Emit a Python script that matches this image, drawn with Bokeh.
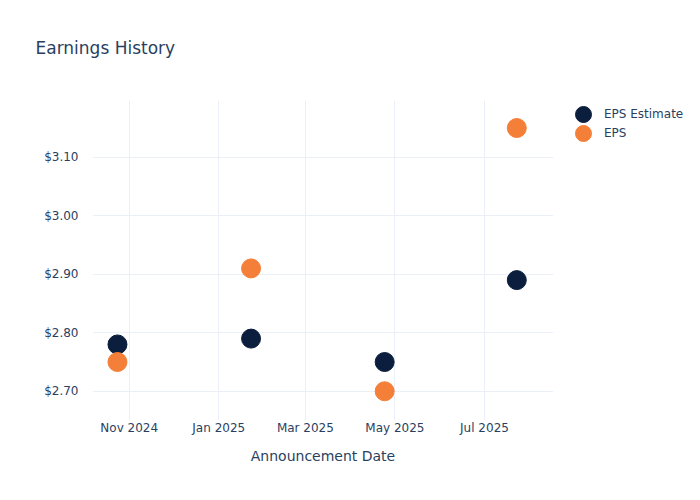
import datetime as dt
from bokeh.plotting import figure
from bokeh.layouts import row, column
from bokeh.models import (ColumnDataSource, FixedTicker, DatetimeTickFormatter,
                          NumeralTickFormatter, Legend, LegendItem, Range1d)
from bokeh.embed import file_html
from bokeh.resources import INLINE

dates = ["2024-10-24", "2025-01-23", "2025-04-24", "2025-07-23"]
eps_estimate = [2.78, 2.79, 2.75, 2.89]
eps_actual = [2.75, 2.91, 2.70, 3.15]
y_ticks = [2.70, 2.80, 2.90, 3.00, 3.10]
x_tick_dates = ["2024-11-01", "2025-01-01", "2025-03-01", "2025-05-01", "2025-07-01"]
series_names = ["EPS Estimate", "EPS"]
series_colors = ["#0c1e3e", "#f47f38"]
title_text = "Earnings History"
x_title = "Announcement Date"

def to_dt(s):
    return dt.datetime.strptime(s, "%Y-%m-%d")

def to_ms(s):
    return (to_dt(s) - dt.datetime(1970, 1, 1)).total_seconds() * 1000

src = ColumnDataSource(dict(x=[to_dt(d) for d in dates], est=eps_estimate, act=eps_actual))
series_cols = ["est", "act"]

TEXT = "#2a3f5f"
GRID = "#ebf0f8"
FONT = "DejaVu Sans"

# --- title strip (plot title of a tiny figure) ---
t = figure(width=560, height=100, output_backend="svg", toolbar_location=None,
           x_axis_location=None, y_axis_location=None,
           x_range=Range1d(0, 1), y_range=Range1d(0, 1),
           min_border_left=92, min_border_right=7, min_border_top=88, min_border_bottom=0)
t.outline_line_color = None
t.grid.visible = False
t.title.text = title_text
t.title.text_font = FONT
t.title.text_font_size = "17px"
t.title.text_font_style = "normal"
t.title.text_color = TEXT
t.title.align = "left"
t.title.offset = -57
t.title.standoff = 62

# --- main plot ---
p = figure(width=560, height=400, output_backend="svg", toolbar_location=None,
           x_axis_type="datetime",
           x_range=Range1d(to_dt("2024-10-07"), to_dt("2025-08-17")),
           y_range=Range1d(2.650, 3.197),
           min_border_left=92, min_border_right=7, min_border_top=0, min_border_bottom=80)
p.outline_line_color = None
p.background_fill_color = "white"
p.border_fill_color = "white"

for col, color in zip(series_cols, series_colors):
    p.scatter("x", col, source=src, size=19, color=color, line_color=color)

p.xaxis.ticker = FixedTicker(ticks=[to_ms(d) for d in x_tick_dates])
p.xaxis.formatter = DatetimeTickFormatter(months="%b %Y", days="%b %Y", years="%b %Y")
p.yaxis.ticker = FixedTicker(ticks=y_ticks)
p.yaxis.formatter = NumeralTickFormatter(format="$0.00")
p.xaxis.axis_label = x_title

for ax in (p.xaxis, p.yaxis):
    ax.axis_line_color = None
    ax.major_tick_line_color = None
    ax.minor_tick_line_color = None
    ax.major_tick_out = 0
    ax.major_tick_in = 0
    ax.minor_tick_out = 0
    ax.major_label_text_font = FONT
    ax.major_label_text_font_size = "12px"
    ax.major_label_text_color = TEXT
    ax.axis_label_text_font = FONT
    ax.axis_label_text_font_size = "14px"
    ax.axis_label_text_font_style = "normal"
    ax.axis_label_text_color = TEXT
p.yaxis.major_label_standoff = 14
p.xaxis.major_label_standoff = 0
p.xaxis.axis_label_standoff = 10

p.xgrid.grid_line_color = GRID
p.ygrid.grid_line_color = GRID

# --- legend strip (same series, drawn off-range so only the legend shows) ---
l = figure(width=140, height=500, output_backend="svg", toolbar_location=None,
           x_axis_location=None, y_axis_location=None,
           x_range=Range1d(0, 1), y_range=Range1d(0, 1),
           min_border_left=0, min_border_right=0, min_border_top=0, min_border_bottom=0)
l.outline_line_color = None
l.grid.visible = False
legend_y = [366, 347]
for name, col, color, ly in zip(series_names, series_cols, series_colors, legend_y):
    r = l.scatter("x", col, source=src, size=19, color=color, line_color=color)
    lg = Legend(items=[LegendItem(label=name, renderers=[r])],
                location=(3, ly), border_line_color=None, background_fill_alpha=0,
                label_text_font=FONT, label_text_font_size="12px",
                label_text_color=TEXT, spacing=0, glyph_width=40, glyph_height=40,
                label_height=19, padding=0, margin=0, label_standoff=1)
    l.add_layout(lg, "center")

layout = row(column(t, p, spacing=0), l, spacing=0)
open("out.html", "w").write(file_html(layout, INLINE))
